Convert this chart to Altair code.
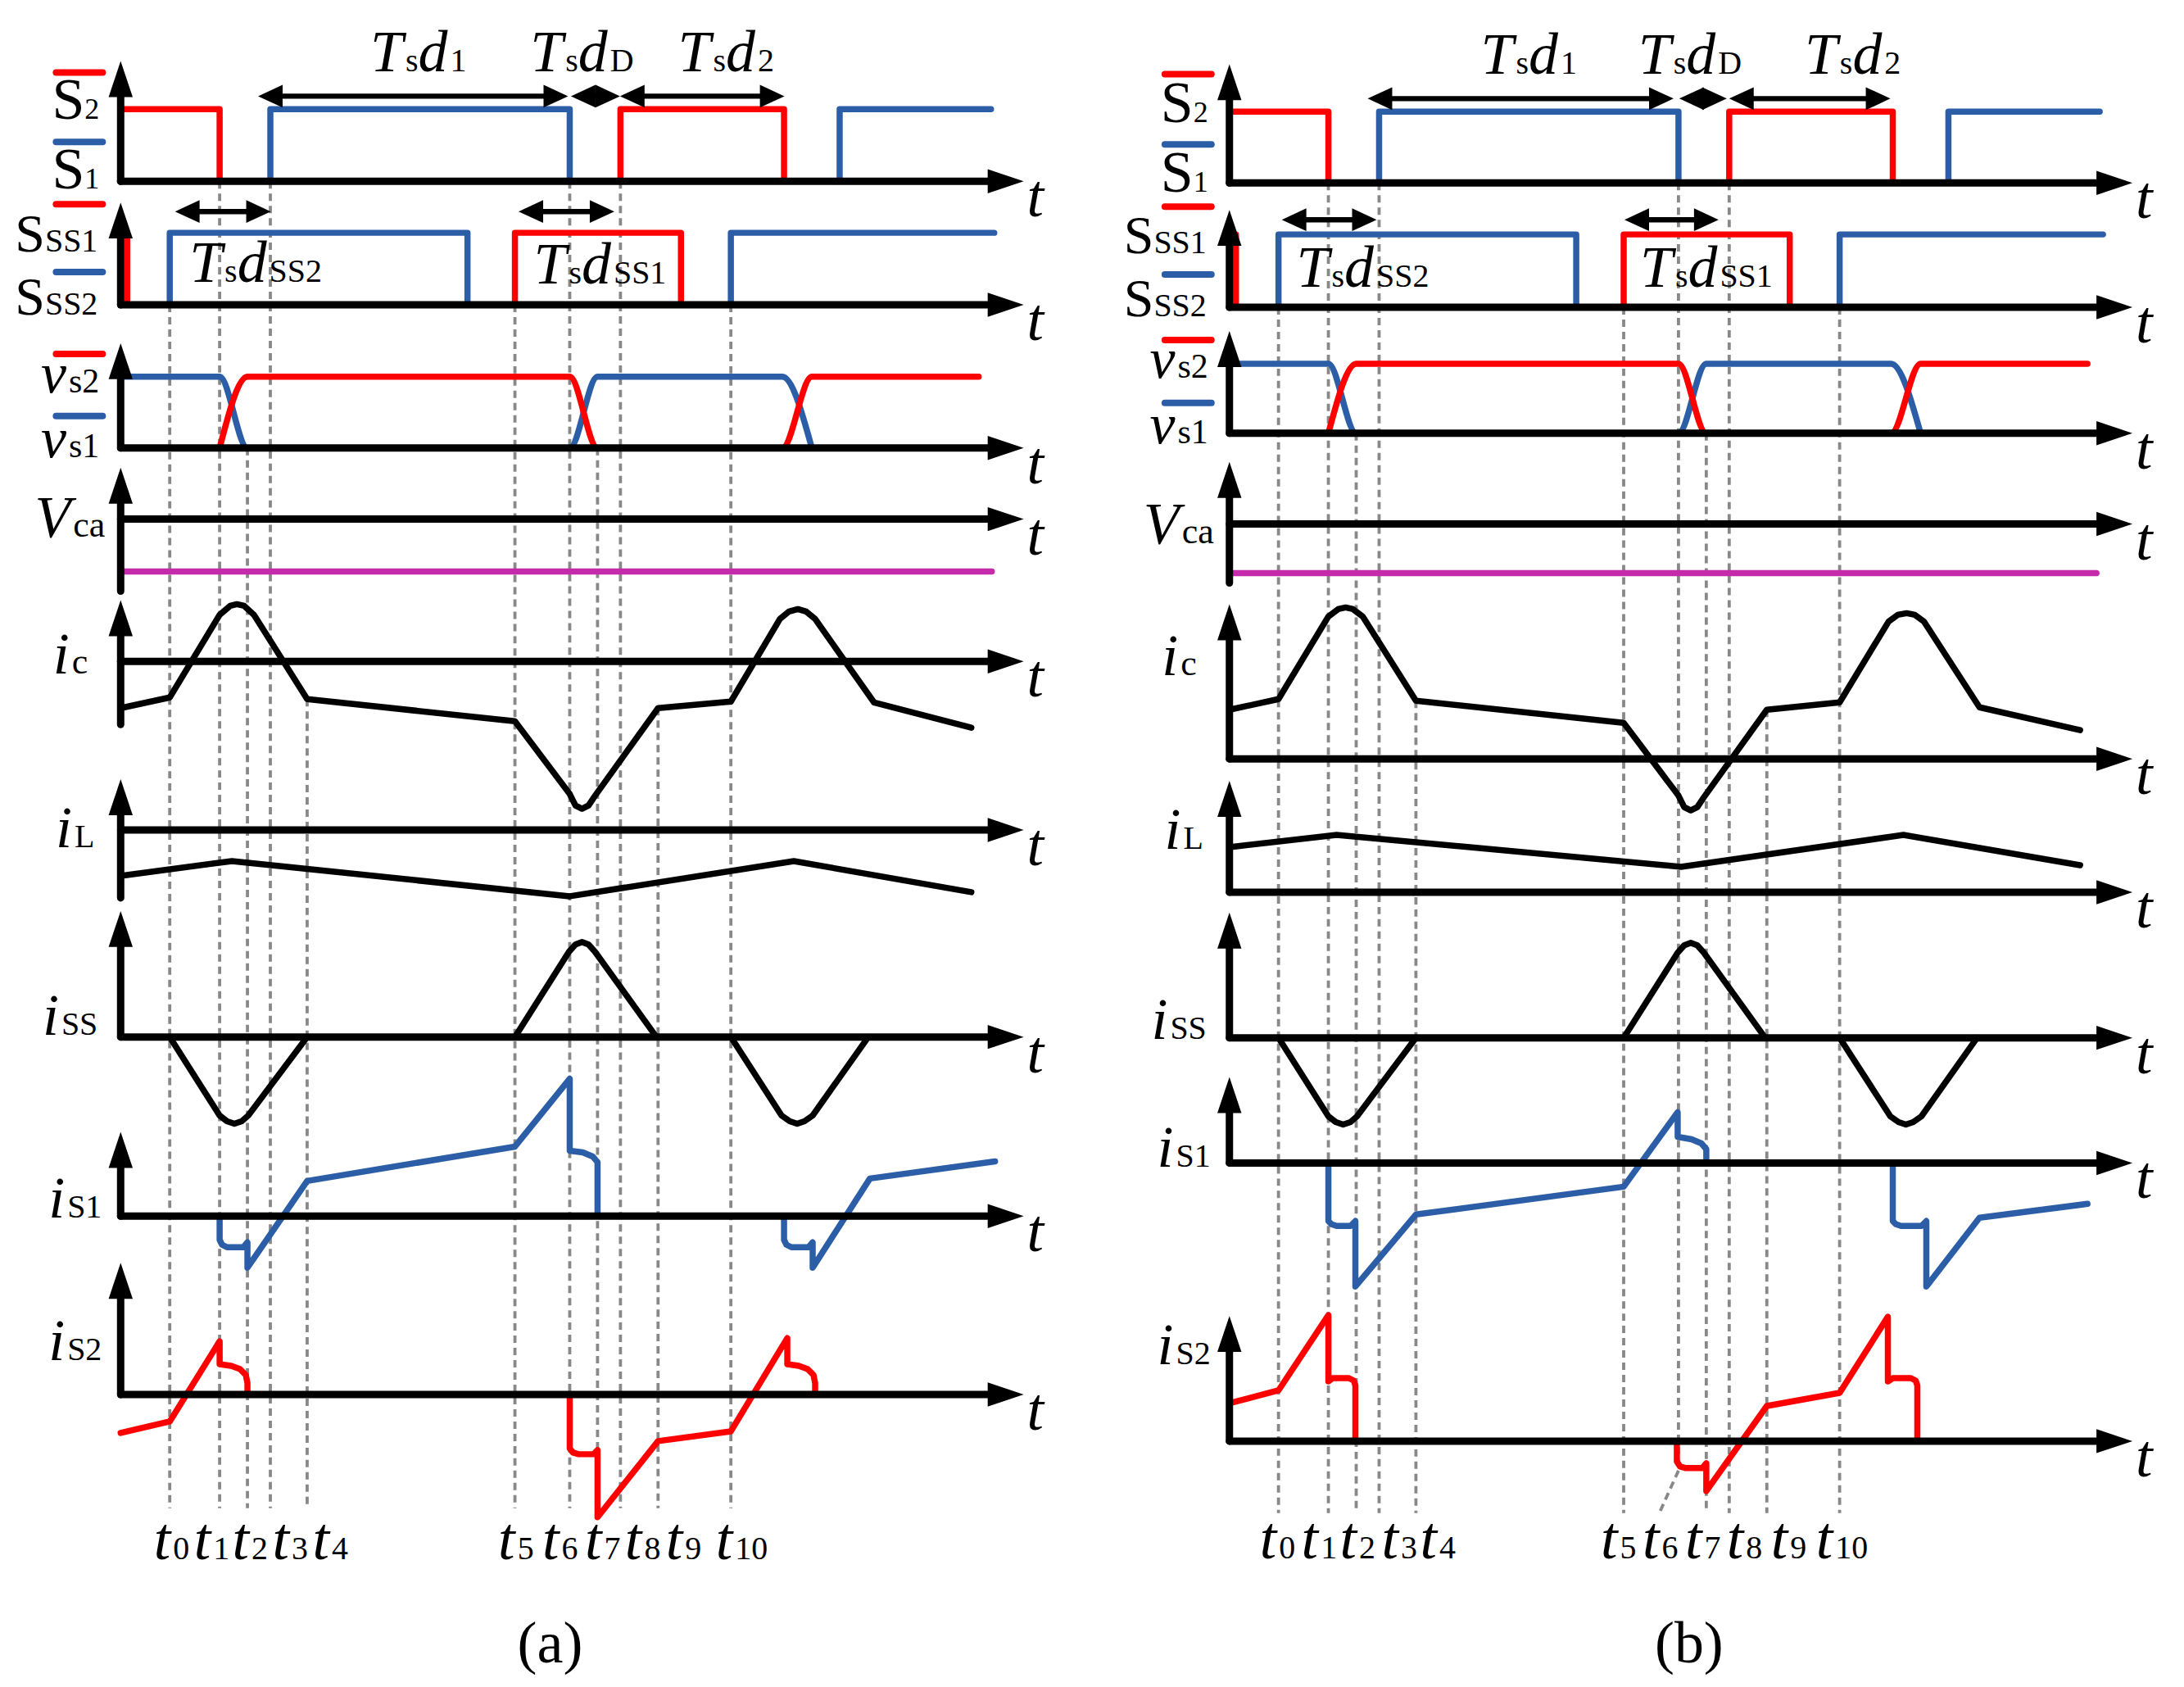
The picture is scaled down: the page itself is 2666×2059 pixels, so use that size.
import altair as alt
import numpy as np
import pandas as pd

FONT = "Liberation Serif"
RED, BLUE, MAGENTA, GREY, BLACK = "#FF0000", "#2B5EA7", "#C42AAA", "#888888", "#000000"

# ---------------- data ----------------
# switching instants t0..t10 (time units along the t axis)
T_EVENTS = [60, 121, 155, 183, 228, 482, 549, 583, 611, 657, 746]
T_SUBS = ["0", "1", "2", "3", "4", "5", "6", "7", "8", "9", "10"]
T_END = 1104

# gate signals (time, state)
S2_BAR = [[(3, 1), (121, 1), (121, 0)], [(611, 0), (611, 1), (811, 1), (811, 0)]]
S1_BAR = [[(183, 0), (183, 1), (549, 1), (549, 0)], [(879, 0), (879, 1), (1064, 1)]]
S_SS1 = [[(3, 1), (8, 1), (8, 0)], [(482, 0), (482, 1), (685, 1), (685, 0)]]
S_SS2 = [[(60, 0), (60, 1), (424, 1), (424, 0)], [(746, 0), (746, 1), (1068, 1)]]
# switch voltages (time, state)
V_S1 = [(3, 1), (121, 1), (155, 0), (549, 0), (583, 1), (809, 1), (845, 0)]
V_S2 = [(121, 0), (155, 1), (549, 1), (583, 0), (809, 0), (845, 1), (1049, 1)]
# soft-switching branch current (same in both panels)
I_SS = [(0, 0), (60, 0), (121, -96), (130, -103), (139, -106), (148, -103), (156, -96), (228, 0),
        (482, 0), (548, 104), (556, 113), (564, 116), (572, 113), (580, 104), (655, 0),
        (746, 0), (808, -96), (818, -103), (827, -106), (836, -103), (846, -96), (914, 0)]

# ---- panel (a) ----
VCA_A = [(3, -64), (1065, -64)]
IC_A = [(0, -57), (60, -44), (121, 57), (134, 68), (142, 70), (151, 68), (163, 57), (228, -46),
        (482, -73), (549, -162), (556, -176), (564, -180), (572, -176), (580, -164), (657, -57),
        (746, -49), (806, 52), (817, 61), (828, 64), (838, 61), (849, 52), (921, -50), (1040, -81)]
IL_A = [(0, -56), (136, -38), (549, -81), (823, -38), (1040, -76)]
IS1_A = [[(121, 0), (121, -29), (124, -35), (130, -38), (150, -38), (155, -32), (155, -63), (228, 43),
          (482, 85), (549, 168), (549, 80), (565, 78), (577, 73), (583, 66), (583, 0)],
         [(811, 0), (811, -29), (814, -35), (820, -38), (841, -38), (846, -32), (846, -63), (916, 46),
          (1069, 67)]]
IS2_A = [[(0, -47), (60, -33), (121, 65), (121, 37), (135, 35), (146, 31), (153, 24), (155, 14), (155, 0)],
         [(549, 0), (549, -66), (553, -71), (560, -73), (578, -73), (583, -68), (583, -150), (657, -57),
          (746, -45), (815, 69), (815, 37), (829, 35), (840, 31), (847, 24), (849, 14), (849, 0)]]

# ---- panel (b) ----
VCA_B = [(3, -60), (1060, -60)]
IC_B = [(0, 60), (60, 73), (121, 174), (133, 183), (142, 185), (151, 183), (163, 174), (228, 71),
        (482, 44), (549, -45), (556, -59), (564, -63), (572, -59), (580, -47), (657, 60),
        (746, 69), (806, 168), (817, 176), (828, 178), (838, 176), (849, 168), (917, 63), (1040, 35)]
IL_B = [(0, 55), (131, 70), (552, 31), (824, 70), (1040, 33)]
IS1_B = [[(121, 0), (121, -71), (125, -75), (131, -77), (148, -77), (154, -71), (154, -151), (228, -63),
          (482, -29), (548, 62), (548, 32), (565, 29), (577, 24), (583, 17), (583, 0)],
         [(811, 0), (811, -71), (815, -75), (821, -77), (846, -77), (852, -71), (852, -151), (917, -67),
          (1049, -50)]]
IS2_B = [[(3, 47), (60, 62), (121, 154), (121, 73), (126, 77), (146, 77), (152, 74), (154, 68), (154, 0)],
         [(547, 0), (547, -25), (551, -31), (558, -33), (578, -33), (583, -27), (583, -61), (657, 43),
          (746, 59), (805, 152), (805, 73), (811, 77), (833, 77), (839, 74), (841, 68), (841, 0)]]

DASH_FROM = ["Sss", "S", "vs", "S", "ic", "Sss", "S", "vs", "S", "ic", "Sss"]

PANELS = [
    dict(axis_x=146.5, left=8, right=1333,
         rows=dict(S=(219, 72, 219), Sss=(370, 245, 370), vs=(545, 417, 545), Vca=(632, 569, 720),
                   ic=(806, 731, 883), iL=(1012, 950, 1095), iss=(1265, 1111, 1265),
                   is1=(1484, 1381, 1484), is2=(1702, 1541, 1702)),
         amp=dict(S=88, Sss=88, vs=87),
         vca=VCA_A, ic=IC_A, il=IL_A, is1=IS1_A, is2=IS2_A,
         dash_end=1841, leader=None,
         t_label_x=[40.5, 89.5, 136.5, 185.5, 234.5, 461.5, 515.5, 567.5, 616.5, 666.5, 727.5],
         t_base=1903, caption="(a)", caption_x=525,
         darrows=[(168, 547, 115), (550.5, 610.5, 115), (610.5, 811.5, 115), (66.5, 183.5, 256),
                  (486.5, 603.5, 256)],
         top_texts=[("1", 364, 85), ("D", 564, 85), ("2", 740, 85), ("SS2", 165, 342), ("SS1", 586, 344)],
         left_base=dict(S2=143, S1=228, Sss1=305, Sss2=382, vs2=477, vs1=556, Vca=653, ic=821, iL=1033,
                        iss=1262, is1=1486, is2=1660),
         bars=dict(S2=86, S1=171, Sss1=247, Sss2=330, vs2=430, vs1=506)),
    dict(axis_x=1500, left=1333, right=2658,
         rows=dict(S=(221, 76, 221), Sss=(373, 254, 373), vs=(527, 402, 527), Vca=(638, 562, 710),
                   ic=(925, 736, 925), iL=(1088, 952, 1088), iss=(1266, 1113, 1266),
                   is1=(1419, 1314, 1419), is2=(1759, 1606, 1759)),
         amp=dict(S=87, Sss=89, vs=85),
         vca=VCA_B, ic=IC_B, il=IL_B, is1=IS1_B, is2=IS2_B,
         dash_end=1847, leader=(6, 1795, 526, 1846),
         t_label_x=[37, 88, 135, 186, 233, 454, 505, 557, 608, 662, 717],
         t_base=1902, caption="(b)", caption_x=562,
         darrows=[(169, 543, 118), (550, 608, 118), (611, 808, 118), (64, 180, 266), (483, 598, 266)],
         top_texts=[("1", 366, 88), ("D", 563, 88), ("2", 762, 88), ("SS2", 163, 348), ("SS1", 583, 348)],
         left_base=dict(S2=147, S1=232, Sss1=307, Sss2=384, vs2=459, vs1=539, Vca=661, ic=823, iL=1035,
                        iss=1267, is1=1424, is2=1665),
         bars=dict(S2=88, S1=174, Sss1=250, Sss2=333, vs2=413, vs1=490)),
]

LEFT_LABELS = [
    ("S2", [("S", False, 72), ("2", False, 36)], -26),
    ("S1", [("S", False, 72), ("1", False, 36)], -26),
    ("Sss1", [("S", False, 66), ("SS1", False, 40)], -28),
    ("Sss2", [("S", False, 66), ("SS2", False, 40)], -28),
    ("vs2", [("v", True, 70), ("s2", False, 42)], -26),
    ("vs1", [("v", True, 70), ("s1", False, 42)], -26),
    ("Vca", [("V", True, 72), ("ca", False, 44)], -19),
    ("ic", [("i", True, 72), ("c", False, 44)], -40),
    ("iL", [("i", True, 72), ("L", False, 40)], -32),
    ("iss", [("i", True, 72), ("SS", False, 40)], -28),
    ("is1", [("i", True, 72), ("S1", False, 40)], -23),
    ("is2", [("i", True, 72), ("S2", False, 40)], -23),
]

# arrow head symbols (tip at the origin)
RIGHT_AX = "M 0 0 L -2 -0.67 L -2 0.67 Z"
UP_AX = "M 0 0 L -0.67 2 L 0.67 2 Z"
RIGHT_DA = "M 0 0 L -2 -0.93 L -2 0.93 Z"
LEFT_DA = "M 0 0 L 2 -0.93 L 2 0.93 Z"

W_IT = {"T": .556, "d": .5, "t": .278, "i": .278, "v": .444, "V": .611}
W_RG = {"S": .556, "s": .389, "D": .722, "c": .444, "a": .444, "L": .611, "(": .333, ")": .333, "b": .5}


def piece_width(text, italic, size):
    tab = W_IT if italic else W_RG
    return sum(tab.get(ch, .5) for ch in text) * size + (3 if italic else 0)


def lay(pieces, x, y, anchor="left"):
    total = sum(piece_width(*p) for p in pieces)
    if anchor == "center":
        x -= total / 2
    elif anchor == "right":
        x -= total
    out = []
    for text, italic, size in pieces:
        out.append(dict(text=text, italic=italic, size=size, x=x, y=y))
        x += piece_width(text, italic, size)
    return out


def build(P):
    ax = P["axis_x"]
    rows, amp = P["rows"], P["amp"]
    xsc = alt.Scale(domain=[P["left"] - ax, P["right"] - ax], nice=False, zero=False)
    ysc = alt.Scale(domain=[8, 2051], reverse=True, nice=False, zero=False)

    def X(f):
        return alt.X(f, type="quantitative", scale=xsc, axis=None)

    def Y(f):
        return alt.Y(f, type="quantitative", scale=ysc, axis=None)

    wave, smooth = [], []

    def add(lst, segs, key, color, base, k=1.0):
        for si, seg in enumerate(segs):
            for j, (t, v) in enumerate(seg):
                lst.append(dict(key=f"{key}_{si}", o=j, x=t, y=base - v * k, color=color))

    add(wave, S2_BAR, "s2", RED, rows["S"][0], amp["S"])
    add(wave, S1_BAR, "s1", BLUE, rows["S"][0], amp["S"])
    add(wave, S_SS1, "ss1", RED, rows["Sss"][0], amp["Sss"])
    add(wave, S_SS2, "ss2", BLUE, rows["Sss"][0], amp["Sss"])
    add(smooth, [V_S1], "vs1", BLUE, rows["vs"][0], amp["vs"])
    add(smooth, [V_S2], "vs2", RED, rows["vs"][0], amp["vs"])
    add(wave, [P["vca"]], "vca", MAGENTA, rows["Vca"][0])
    add(wave, [P["ic"]], "ic", BLACK, rows["ic"][0])
    add(wave, [P["il"]], "il", BLACK, rows["iL"][0])
    add(wave, [I_SS], "iss", BLACK, rows["iss"][0])
    add(wave, P["is1"], "is1", BLUE, rows["is1"][0])
    add(wave, P["is2"], "is2", RED, rows["is2"][0])

    dash = []
    ic_t = [p[0] for p in P["ic"]]
    ic_v = [p[1] for p in P["ic"]]
    for i, t in enumerate(T_EVENTS):
        r = DASH_FROM[i]
        y0 = rows["ic"][0] - float(np.interp(t, ic_t, ic_v)) if r == "ic" else rows[r][0]
        if P["leader"] is not None and P["leader"][0] == i:
            _, yb, xl, yl = P["leader"]
            dash.append(dict(x=t, y=y0, x2=t, y2=yb))
            dash.append(dict(x=t, y=yb, x2=xl, y2=yl))
        else:
            dash.append(dict(x=t, y=y0, x2=t, y2=P["dash_end"]))

    axes, heads, darrow = [], [], []
    for name, (ay, top, bot) in rows.items():
        axes.append(dict(x=0, x2=T_END - 25, y=ay, y2=ay))
        axes.append(dict(x=0, x2=0, y=bot, y2=top + 25))
        heads.append(dict(x=T_END, y=ay, shape=RIGHT_AX, size=1936))
        heads.append(dict(x=0, y=top, shape=UP_AX, size=1936))
    for x1, x2, y in P["darrows"]:
        darrow.append(dict(x=x1 + 8, x2=x2 - 8, y=y, y2=y))
        heads.append(dict(x=x1, y=y, shape=LEFT_DA, size=900))
        heads.append(dict(x=x2, y=y, shape=RIGHT_DA, size=900))

    bars = []
    for key, color in [("S2", RED), ("S1", BLUE), ("Sss1", RED), ("Sss2", BLUE), ("vs2", RED), ("vs1", BLUE)]:
        yb = P["bars"][key]
        bars.append(dict(x=-79, x2=-22, y=yb, y2=yb, color=color))

    texts = []
    for key, pieces, right in LEFT_LABELS:
        texts += lay(pieces, right, P["left_base"][key], "right")
    for sub, cx, by in P["top_texts"]:
        texts += lay([("T", True, 72), ("s", False, 40), ("d", True, 72), (sub, False, 40)], cx, by, "center")
    for name, (ay, top, bot) in rows.items():
        texts += lay([("t", True, 74)], 1108, ay + 43)
    for sub, tx in zip(T_SUBS, P["t_label_x"]):
        texts += lay([("t", True, 74), (sub, False, 40)], tx, P["t_base"])
    texts += lay([(P["caption"], False, 72)], P["caption_x"], 2030, "center")
    tdf = pd.DataFrame(texts)

    dashed = alt.Chart(pd.DataFrame(dash)).mark_rule(color=GREY, strokeWidth=3.8, strokeDash=[9, 6]).encode(
        x=X("x"), y=Y("y"), x2=alt.X2("x2"), y2=alt.Y2("y2"))
    lines = alt.Chart(pd.DataFrame(wave)).mark_line(strokeWidth=7.5, strokeJoin="round", strokeCap="round").encode(
        x=X("x"), y=Y("y"), detail="key:N", order="o:Q", color=alt.Color("color:N", scale=None))
    curves = alt.Chart(pd.DataFrame(smooth)).mark_line(strokeWidth=7.5, interpolate="monotone", strokeCap="round").encode(
        x=X("x"), y=Y("y"), detail="key:N", order="o:Q", color=alt.Color("color:N", scale=None))
    axis_l = alt.Chart(pd.DataFrame(axes)).mark_rule(color=BLACK, strokeWidth=9, strokeCap="round").encode(
        x=X("x"), y=Y("y"), x2=alt.X2("x2"), y2=alt.Y2("y2"))
    darr = alt.Chart(pd.DataFrame(darrow)).mark_rule(color=BLACK, strokeWidth=6.5).encode(
        x=X("x"), y=Y("y"), x2=alt.X2("x2"), y2=alt.Y2("y2"))
    head_l = alt.Chart(pd.DataFrame(heads)).mark_point(filled=True, opacity=1, color=BLACK, strokeWidth=0).encode(
        x=X("x"), y=Y("y"), shape=alt.Shape("shape:N", scale=None), size=alt.Size("size:Q", scale=None))
    bar_l = alt.Chart(pd.DataFrame(bars)).mark_rule(strokeWidth=8, strokeCap="round").encode(
        x=X("x"), y=Y("y"), x2=alt.X2("x2"), y2=alt.Y2("y2"), color=alt.Color("color:N", scale=None))
    t_it = alt.Chart(tdf[tdf["italic"]]).mark_text(font=FONT, fontStyle="italic", align="left",
                                                  baseline="alphabetic", color=BLACK).encode(
        x=X("x"), y=Y("y"), text="text:N", size=alt.Size("size:Q", scale=None))
    t_rg = alt.Chart(tdf[~tdf["italic"]]).mark_text(font=FONT, align="left",
                                                   baseline="alphabetic", color=BLACK).encode(
        x=X("x"), y=Y("y"), text="text:N", size=alt.Size("size:Q", scale=None))

    return alt.layer(dashed, lines, curves, axis_l, darr, head_l, bar_l, t_it, t_rg).properties(
        width=P["right"] - P["left"], height=2043)


chart = alt.hconcat(build(PANELS[0]), build(PANELS[1]), spacing=0).properties(
    padding=0).configure_view(stroke="transparent")

chart.save("out.html", embed_options={"renderer": "svg", "actions": False})
